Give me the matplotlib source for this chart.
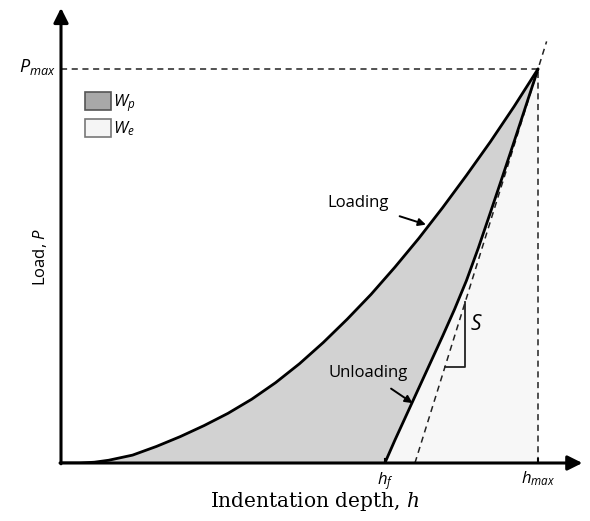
import matplotlib.pyplot as plt
from matplotlib.patches import Patch

plt.rcParams['font.family'] = ['Open Sans', 'DejaVu Sans']
plt.rcParams['mathtext.fontset'] = 'custom'
plt.rcParams['mathtext.it'] = 'Open Sans:italic'
plt.rcParams['mathtext.rm'] = 'Open Sans'

# loading branch (depth, load), normalised to h_max = P_max = 1
load_h = [0.0, 0.04, 0.07, 0.10, 0.15, 0.20, 0.25, 0.30, 0.35, 0.40, 0.45,
          0.50, 0.55, 0.60, 0.65, 0.70, 0.75, 0.80, 0.85, 0.90, 0.95, 1.0]
load_p = [0.0, 0.0, 0.002, 0.007, 0.020, 0.042, 0.067, 0.095, 0.126, 0.162, 0.204,
          0.252, 0.306, 0.365, 0.428, 0.497, 0.570, 0.648, 0.730, 0.815, 0.905, 1.0]

# unloading branch
unload_h = [0.679, 0.700, 0.725, 0.750, 0.775, 0.800, 0.825, 0.850, 0.875,
            0.900, 0.925, 0.950, 0.975, 1.0]
unload_p = [0.0, 0.058, 0.124, 0.190, 0.256, 0.322, 0.390, 0.463, 0.546,
            0.635, 0.725, 0.816, 0.908, 1.0]

h_f = 0.679
h_max = 1.0
p_max = 1.0
h_tan = 0.742          # tangent (stiffness) intercept on depth axis
tan_top = 1.07         # load where dashed tangent ends
s_low, s_high = 0.244, 0.409   # stiffness triangle

fig = plt.figure(figsize=(5.9, 5.21), dpi=100)
xmax, ymax = 1.1, 1.16
ax = fig.add_axes([61 / 590, 58 / 521, xmax * 477 / 590, ymax * 394 / 521])
ax.set_xlim(0, xmax)
ax.set_ylim(0, ymax)
ax.axis('off')

# areas: elastic work (light) and plastic work (grey)
ax.fill_betweenx(unload_p, unload_h, h_max, color='#f7f7f7', lw=0, zorder=0)
ax.fill(load_h + unload_h[::-1], load_p + unload_p[::-1], color='#d2d2d2', lw=0, zorder=1)

ax.plot(load_h, load_p, color='black', lw=2.0, zorder=3, solid_capstyle='round')
ax.plot(unload_h, unload_p, color='black', lw=2.0, zorder=3, solid_capstyle='round')

# dashed guides
dash = dict(color='#222222', lw=1.1, linestyle=(0, (4, 3)), zorder=2)
ax.plot([0, h_max], [p_max, p_max], **dash)
ax.plot([h_max, h_max], [0, p_max], **dash)
ax.plot([h_tan, h_tan + (h_max - h_tan) * tan_top], [0, tan_top], **dash)

# stiffness triangle
s_left = h_tan + (h_max - h_tan) * s_low
s_right = h_tan + (h_max - h_tan) * s_high
ax.plot([s_left, s_right, s_right], [s_low, s_low, s_high], color='#222222', lw=1.3, zorder=3)
ax.text(s_right + 0.012, (s_low + s_high) / 2 + 0.025, 'S', fontsize=15, style='italic',
        ha='left', va='center')

# axes with arrow heads
arr = dict(arrowstyle='-|>', lw=2.2, color='black', mutation_scale=22, shrinkA=0, shrinkB=0)
ax.annotate('', xy=(0, 1.155), xytext=(0, -0.002), arrowprops=arr, zorder=4)
ax.annotate('', xy=(1.093, 0), xytext=(-0.002, 0), arrowprops=arr, zorder=4)

# ticks
ax.plot([-0.012, 0], [p_max, p_max], color='black', lw=1.5)
ax.plot([h_f, h_f], [-0.02, 0.01], color='black', lw=1.5)
ax.plot([h_max, h_max], [-0.02, 0.01], color='black', lw=1.5)

ax.text(-0.012, p_max + 0.005, r'$P_{max}$', fontsize=13, ha='right', va='center')
ax.text(h_f, -0.017, r'$h_f$', fontsize=12, ha='center', va='top')
ax.text(h_max, -0.017, r'$h_{max}$', fontsize=12, ha='center', va='top')

ax.text(-0.044, 0.523, 'Load, $P$', fontsize=12, rotation=90, ha='center', va='center')
ax.text(0.532, -0.112, 'Indentation depth, $h$', fontsize=14.5, ha='center', va='baseline',
        family='DejaVu Serif', math_fontfamily='dejavuserif')

# curve labels
ax.annotate('Loading', xy=(0.765, 0.605), xytext=(0.623, 0.66), fontsize=12,
            ha='center', va='center',
            arrowprops=dict(arrowstyle='-|>', lw=1.4, color='black', mutation_scale=11,
                            shrinkA=6, shrinkB=0))
ax.annotate('Unloading', xy=(0.737, 0.152), xytext=(0.644, 0.228), fontsize=12,
            ha='center', va='center',
            arrowprops=dict(arrowstyle='-|>', lw=1.4, color='black', mutation_scale=11,
                            shrinkA=6, shrinkB=0))

handles = [Patch(facecolor='#a8a8a8', edgecolor='#555555', lw=1.2),
           Patch(facecolor='#f5f5f5', edgecolor='#777777', lw=1.2)]
ax.legend(handles, [r'$W_p$', r'$W_e$'], loc='upper left', bbox_to_anchor=(0.046, 0.812),
          frameon=False, fontsize=12, handlelength=1.55, handleheight=1.25,
          handletextpad=0.15, labelspacing=0.3, borderaxespad=0, borderpad=0)

fig.savefig('out.png', dpi=100)
